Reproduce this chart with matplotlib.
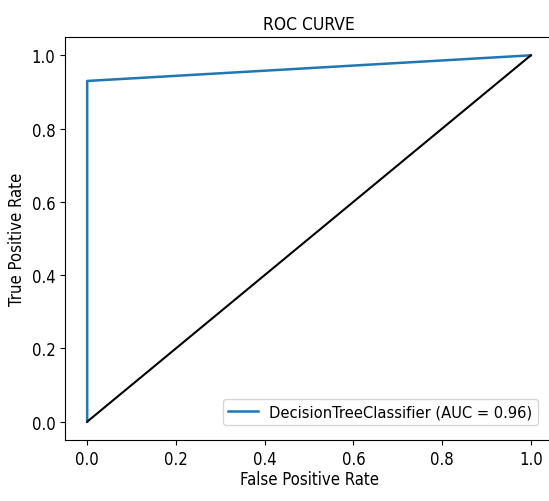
import matplotlib
matplotlib.use("Agg")
import matplotlib.pyplot as plt

plt.rcParams["font.family"] = ["DejaVu Sans"]
plt.rcParams["font.stretch"] = "condensed"

fpr = [0.0, 0.0, 1.0]
tpr = [0.0, 0.93, 1.0]
diag_x = [0.0, 1.0]
diag_y = [0.0, 1.0]
auc = 0.96
label = f"DecisionTreeClassifier (AUC = {auc:.2f})"

W, H = 549, 502
fig = plt.figure(figsize=(W / 100, H / 100), dpi=100)
ax = fig.add_axes([65 / W, (H - 441) / H, (553 - 65) / W, (441 - 38) / H])
ax.plot(fpr, tpr, color="#1f77b4", lw=1.8, label=label)
ax.plot(diag_x, diag_y, color="black", lw=1.5)
ax.set_xlim(-0.05, 1.05)
ax.set_ylim(-0.05, 1.05)
ax.set_xticks([0, 0.2, 0.4, 0.6, 0.8, 1.0])
ax.set_yticks([0, 0.2, 0.4, 0.6, 0.8, 1.0])
ax.tick_params(labelsize=12)
ax.set_xlabel("False Positive Rate", fontsize=12, labelpad=2)
ax.set_ylabel("True Positive Rate", fontsize=12)
ax.set_title("ROC CURVE", fontsize=12.5)
ax.legend(loc="lower right", fontsize=11.8, borderaxespad=0.9,
          handlelength=1.8, handletextpad=0.7, borderpad=0.35)
fig.savefig("out.png", dpi=100)
